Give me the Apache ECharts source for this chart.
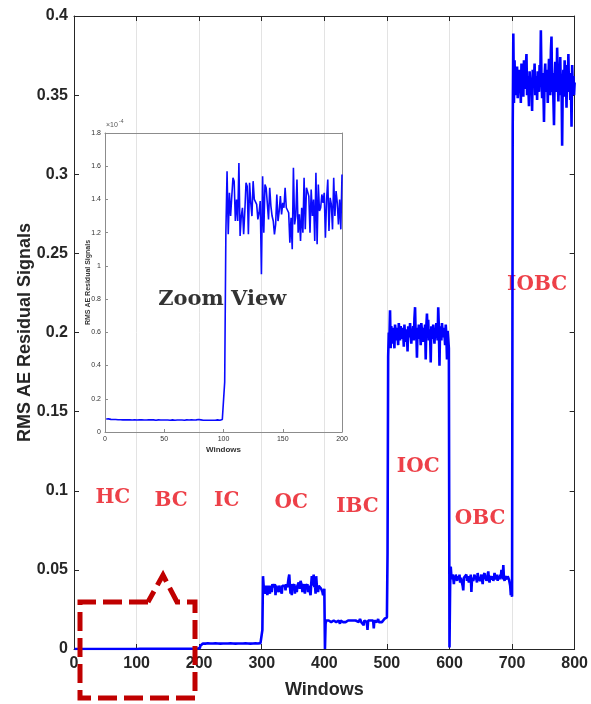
<!DOCTYPE html>
<html>
<head>
<meta charset="utf-8">
<title>RMS AE Residual Signals</title>
<script src="https://cdn.jsdelivr.net/npm/echarts@6/dist/echarts.min.js"></script>
<style>
  html, body { margin: 0; padding: 0; background: #fff; }
  #chart { width: 591px; height: 704px; }
</style>
</head>
<body>
<div id="chart"></div>
<script>
// windows 1-100 (HC) and 101-200 (BC), read from the zoom view, in units of 1e-4
const hcZoom = [
  0.078,0.083,0.079,0.077,0.076,0.075,0.075,0.074,0.075,0.074,
  0.074,0.073,0.074,0.073,0.073,0.074,0.073,0.072,0.073,0.074,
  0.073,0.073,0.072,0.073,0.074,0.073,0.072,0.072,0.073,0.073,
  0.074,0.073,0.072,0.073,0.072,0.072,0.073,0.074,0.073,0.072,
  0.073,0.072,0.071,0.072,0.073,0.072,0.072,0.073,0.072,0.071,
  0.072,0.073,0.072,0.072,0.071,0.072,0.073,0.072,0.071,0.072,
  0.072,0.071,0.072,0.073,0.072,0.071,0.071,0.072,0.073,0.072,
  0.072,0.073,0.074,0.073,0.072,0.072,0.073,0.074,0.075,0.074,
  0.073,0.072,0.071,0.070,0.071,0.070,0.071,0.072,0.071,0.070,
  0.071,0.072,0.071,0.072,0.073,0.072,0.071,0.072,0.075,0.080
]
const bcZoom = [
  0.30,1.20,1.57,1.19,1.44,1.30,1.42,1.53,1.51,1.27,
  1.40,1.27,1.62,1.18,1.30,1.35,1.19,1.33,1.50,1.48,
  1.19,1.50,1.38,1.30,1.51,1.40,1.39,1.37,1.28,1.32,
  1.39,0.95,1.54,1.20,1.49,1.47,1.48,1.28,1.47,1.36,
  1.30,1.27,1.19,1.25,1.43,1.27,1.33,1.42,1.31,1.38,
  1.35,1.47,1.35,1.36,1.32,1.14,1.29,1.10,1.59,1.25,
  1.30,1.52,1.20,1.31,1.15,1.35,1.20,1.53,1.22,1.47,
  1.48,1.42,1.20,1.46,1.30,1.40,1.15,1.56,1.13,1.49,
  1.33,1.35,1.43,1.38,1.44,1.17,1.40,1.52,1.21,1.41,
  1.37,1.22,1.53,1.30,1.45,1.38,1.25,1.40,1.22,1.55
]
const zoomScale = 1e-4

// windows 201-800
const icVals = [
  0.0006,0.0021,0.0030,0.0033,0.0034,0.0035,0.0034,0.0035,0.0035,0.0034,
  0.0035,0.0034,0.0035,0.0036,0.0035,0.0034,0.0035,0.0035,0.0036,0.0035,
  0.0034,0.0035,0.0035,0.0034,0.0035,0.0036,0.0035,0.0035,0.0034,0.0035,
  0.0035,0.0036,0.0035,0.0034,0.0035,0.0035,0.0036,0.0035,0.0035,0.0034,
  0.0035,0.0035,0.0034,0.0035,0.0036,0.0035,0.0035,0.0034,0.0035,0.0036,
  0.0035,0.0035,0.0034,0.0035,0.0035,0.0036,0.0035,0.0034,0.0035,0.0035,
  0.0036,0.0035,0.0035,0.0034,0.0035,0.0035,0.0036,0.0035,0.0034,0.0035,
  0.0035,0.0034,0.0035,0.0036,0.0035,0.0035,0.0034,0.0035,0.0036,0.0035,
  0.0035,0.0034,0.0035,0.0035,0.0036,0.0035,0.0035,0.0034,0.0035,0.0036,
  0.0035,0.0036,0.0035,0.0035,0.0036,0.0037,0.0036,0.0037,0.0038,0.0040
]
const ocVals = [
  0.012,0.046,0.040,0.041,0.039,0.035,0.040,0.041,0.034,0.040,
  0.039,0.041,0.035,0.040,0.040,0.036,0.041,0.040,0.039,0.040,
  0.041,0.034,0.040,0.039,0.041,0.040,0.036,0.040,0.041,0.039,
  0.040,0.035,0.040,0.041,0.040,0.039,0.040,0.037,0.041,0.040,
  0.039,0.042,0.045,0.047,0.040,0.035,0.040,0.034,0.041,0.040,
  0.039,0.041,0.035,0.040,0.041,0.036,0.040,0.041,0.042,0.040,
  0.038,0.043,0.042,0.040,0.036,0.041,0.042,0.040,0.035,0.041,
  0.040,0.039,0.041,0.036,0.040,0.041,0.040,0.034,0.041,0.046,
  0.040,0.044,0.047,0.039,0.041,0.035,0.046,0.040,0.041,0.036,
  0.040,0.041,0.039,0.040,0.038,0.037,0.036,0.034,0.036,0.038
]
const ibcVals = [
  0.000,0.016,0.018,0.017,0.018,0.017,0.018,0.018,0.017,0.018,
  0.017,0.018,0.017,0.017,0.018,0.018,0.017,0.018,0.017,0.018,
  0.018,0.017,0.018,0.017,0.016,0.018,0.017,0.018,0.018,0.017,
  0.018,0.017,0.018,0.017,0.018,0.018,0.016,0.018,0.017,0.018,
  0.017,0.018,0.018,0.019,0.017,0.018,0.017,0.018,0.017,0.018,
  0.018,0.017,0.018,0.018,0.017,0.018,0.019,0.018,0.017,0.018,
  0.017,0.018,0.015,0.018,0.017,0.018,0.018,0.017,0.012,0.018,
  0.017,0.018,0.019,0.018,0.017,0.018,0.017,0.018,0.013,0.018,
  0.017,0.018,0.018,0.017,0.018,0.019,0.017,0.018,0.017,0.018,
  0.018,0.017,0.018,0.017,0.018,0.019,0.018,0.018,0.019,0.020
]
const iocVals = [
  0.060,0.185,0.200,0.196,0.214,0.190,0.204,0.198,0.193,0.203,
  0.199,0.190,0.205,0.201,0.195,0.203,0.198,0.192,0.206,0.200,
  0.195,0.204,0.199,0.196,0.203,0.200,0.191,0.205,0.198,0.194,
  0.202,0.199,0.188,0.204,0.200,0.197,0.206,0.198,0.193,0.201,
  0.199,0.204,0.195,0.209,0.216,0.197,0.201,0.184,0.203,0.199,
  0.205,0.196,0.200,0.192,0.206,0.201,0.198,0.194,0.203,0.199,
  0.205,0.183,0.204,0.212,0.200,0.208,0.195,0.202,0.199,0.181,
  0.204,0.200,0.196,0.205,0.199,0.193,0.202,0.198,0.206,0.200,
  0.195,0.216,0.203,0.179,0.204,0.199,0.195,0.206,0.200,0.197,
  0.203,0.199,0.192,0.205,0.198,0.183,0.201,0.196,0.190,0.001
]
const obcVals = [
  0.040,0.052,0.046,0.044,0.047,0.045,0.041,0.046,0.044,0.047,
  0.045,0.043,0.046,0.045,0.044,0.047,0.042,0.045,0.046,0.044,
  0.040,0.037,0.045,0.046,0.044,0.045,0.047,0.043,0.046,0.045,
  0.042,0.046,0.044,0.047,0.036,0.045,0.046,0.043,0.045,0.047,
  0.044,0.046,0.045,0.042,0.048,0.045,0.044,0.046,0.043,0.045,
  0.047,0.044,0.041,0.046,0.045,0.048,0.044,0.046,0.043,0.045,
  0.046,0.049,0.044,0.042,0.046,0.045,0.047,0.044,0.046,0.043,
  0.045,0.048,0.046,0.044,0.045,0.047,0.043,0.046,0.045,0.044,
  0.047,0.045,0.050,0.046,0.044,0.053,0.045,0.043,0.046,0.045,
  0.047,0.044,0.046,0.045,0.044,0.043,0.040,0.034,0.036,0.033
]
const iobcVals = [
  0.330,0.389,0.345,0.372,0.350,0.365,0.355,0.368,0.348,0.360,
  0.352,0.366,0.358,0.345,0.370,0.356,0.362,0.349,0.372,0.358,
  0.354,0.368,0.376,0.350,0.362,0.356,0.343,0.365,0.358,0.352,
  0.361,0.340,0.366,0.355,0.359,0.370,0.350,0.358,0.362,0.347,
  0.365,0.357,0.352,0.369,0.356,0.391,0.360,0.348,0.364,0.355,
  0.333,0.362,0.370,0.352,0.358,0.366,0.345,0.360,0.373,0.355,
  0.350,0.378,0.387,0.352,0.364,0.348,0.331,0.360,0.371,0.356,
  0.352,0.380,0.362,0.346,0.368,0.357,0.374,0.350,0.361,0.318,
  0.358,0.366,0.349,0.372,0.355,0.361,0.342,0.369,0.358,0.376,
  0.352,0.364,0.347,0.360,0.330,0.369,0.355,0.362,0.350,0.358
]

// condition labels placed at [window, value]
const conditionNames = ['HC', 'BC', 'IC', 'OC', 'IBC', 'IOC', 'OBC', 'IOBC']
const conditionSpots = [
  [62, 0.0954], [155, 0.0935], [244, 0.0935], [347, 0.0923],
  [453, 0.0897], [550, 0.115], [649, 0.0822], [740, 0.230]
]

const mainYTicks = { min: 0, max: 0.4, step: 0.05 }
const mainXTicks = { min: 0, max: 800, step: 100 }
const zoomYTicks = { min: 0, max: 1.8, step: 0.2 }
const zoomXTicks = { min: 0, max: 200, step: 50 }

const zoomVals = hcZoom.concat(bcZoom)
const allVals = zoomVals.map(v => v * zoomScale)
  .concat(icVals, ocVals, ibcVals, iocVals, obcVals, iobcVals)

const mainData = allVals.map((v, i) => [i + 1, v])
const zoomData = zoomVals.map((v, i) => [i + 1, v])

const sans = 'Liberation Sans, Arial, sans-serif'
const axisDark = '#262626'
const axisGray = '#8c8c8c'

const chart = echarts.init(document.getElementById('chart'), null, { renderer: 'canvas' })

const option = {
  animation: false,
  backgroundColor: '#fff',
  grid: [
    { left: 74, right: 13, top: 16, bottom: 55 },
    { left: 105, top: 133, width: 237, height: 299 }
  ],
  xAxis: [
    {
      gridIndex: 0, type: 'value', min: mainXTicks.min, max: mainXTicks.max, interval: mainXTicks.step,
      name: 'Windows', nameLocation: 'middle', nameGap: 32,
      nameTextStyle: { fontFamily: sans, fontWeight: 'bold', fontSize: 18, color: axisDark },
      axisLine: { onZero: false, lineStyle: { color: axisDark, width: 1 } },
      axisTick: { inside: true, length: 5, lineStyle: { color: axisDark } },
      axisLabel: { fontFamily: sans, fontWeight: 'bold', fontSize: 16, color: axisDark, margin: 7 },
      splitLine: { show: true, lineStyle: { color: '#e3e3e3', width: 1 } }
    },
    {
      gridIndex: 0, type: 'value', position: 'top', min: mainXTicks.min, max: mainXTicks.max, interval: mainXTicks.step,
      axisLine: { onZero: false, lineStyle: { color: axisDark } },
      axisTick: { inside: true, length: 5, lineStyle: { color: axisDark } },
      axisLabel: { show: false }, splitLine: { show: false }
    },
    {
      gridIndex: 1, type: 'value', min: zoomXTicks.min, max: zoomXTicks.max, interval: zoomXTicks.step,
      name: 'Windows', nameLocation: 'middle', nameGap: 14,
      nameTextStyle: { fontFamily: sans, fontWeight: 'bold', fontSize: 8, color: '#333' },
      axisLine: { onZero: false, lineStyle: { color: axisGray } },
      axisTick: { inside: true, length: 3, lineStyle: { color: axisGray } },
      axisLabel: { fontFamily: sans, fontSize: 7, color: '#333', margin: 4 },
      splitLine: { show: false }
    },
    {
      gridIndex: 1, type: 'value', position: 'top', min: zoomXTicks.min, max: zoomXTicks.max, interval: zoomXTicks.step,
      axisLine: { onZero: false, lineStyle: { color: axisGray } },
      axisTick: { show: false }, axisLabel: { show: false }, splitLine: { show: false }
    }
  ],
  yAxis: [
    {
      gridIndex: 0, type: 'value', min: mainYTicks.min, max: mainYTicks.max, interval: mainYTicks.step,
      name: 'RMS AE Residual Signals', nameLocation: 'middle', nameGap: 40, nameMoveOverlap: false,
      nameTextStyle: { fontFamily: sans, fontWeight: 'bold', fontSize: 18, color: axisDark },
      axisLine: { show: true, onZero: false, lineStyle: { color: axisDark } },
      axisTick: { show: true, inside: true, length: 5, lineStyle: { color: axisDark } },
      axisLabel: { fontFamily: sans, fontWeight: 'bold', fontSize: 16, color: axisDark, margin: 6 },
      splitLine: { show: false }
    },
    {
      gridIndex: 0, type: 'value', position: 'right', min: mainYTicks.min, max: mainYTicks.max, interval: mainYTicks.step,
      axisLine: { show: true, onZero: false, lineStyle: { color: axisDark } },
      axisTick: { show: true, inside: true, length: 5, lineStyle: { color: axisDark } },
      axisLabel: { show: false }, splitLine: { show: false }
    },
    {
      gridIndex: 1, type: 'value', min: zoomYTicks.min, max: zoomYTicks.max, interval: zoomYTicks.step,
      name: 'RMS AE Residual Signals', nameLocation: 'middle', nameGap: 13, nameMoveOverlap: false,
      nameTextStyle: { fontFamily: sans, fontWeight: 'bold', fontSize: 7, color: '#333' },
      axisLine: { show: true, onZero: false, lineStyle: { color: axisGray } },
      axisTick: { show: true, inside: true, length: 3, lineStyle: { color: axisGray } },
      axisLabel: { fontFamily: sans, fontSize: 7, color: '#333', margin: 4 },
      splitLine: { show: false }
    },
    {
      gridIndex: 1, type: 'value', position: 'right', min: zoomYTicks.min, max: zoomYTicks.max, interval: zoomYTicks.step,
      axisLine: { show: true, onZero: false, lineStyle: { color: axisGray } },
      axisTick: { show: false }, axisLabel: { show: false }, splitLine: { show: false }
    }
  ],
  series: [
    {
      type: 'line', xAxisIndex: 0, yAxisIndex: 0, data: mainData,
      showSymbol: false, symbol: 'none', silent: true,
      lineStyle: { color: '#0000ff', width: 2.6 }
    },
    {
      type: 'line', xAxisIndex: 2, yAxisIndex: 2, data: zoomData,
      showSymbol: false, symbol: 'none', silent: true,
      lineStyle: { color: '#0a0aff', width: 1.6 }
    },
    {
      type: 'scatter', xAxisIndex: 0, yAxisIndex: 0, symbolSize: 0, silent: true,
      data: conditionNames.map((n, i) => ({ name: n, value: conditionSpots[i] })),
      label: {
        show: true, position: 'inside', formatter: '{b}',
        fontFamily: 'DejaVu Serif, serif', fontWeight: 'bold', fontSize: 20, color: '#e8101a'
      }
    },
    {
      type: 'scatter', xAxisIndex: 2, yAxisIndex: 2, symbolSize: 0, silent: true,
      data: [{ name: 'Zoom View', value: [99, 0.795] }],
      label: {
        show: true, position: 'inside', formatter: '{b}',
        fontFamily: 'DejaVu Serif, serif', fontWeight: 'bold', fontSize: 21, color: '#000'
      }
    }
  ],
  graphic: [
    {
      type: 'text', left: 106, top: 122,
      style: { text: '×10', fontFamily: sans, fontSize: 7, fill: '#555' }
    },
    {
      type: 'text', left: 119, top: 119,
      style: { text: '-4', fontFamily: sans, fontSize: 5, fill: '#555' }
    },
    {
      // dashed callout around the HC/BC part
      type: 'polyline', z: 100, silent: true,
      shape: { points: [[148, 602], [80, 602], [80, 698], [195, 698], [195, 602], [177, 602], [163, 575], [148, 602]] },
      style: { stroke: '#c00000', lineWidth: 5, lineDash: [19, 7], fill: null, lineJoin: 'miter' }
    }
  ]
}

chart.setOption(option)
</script>
</body>
</html>
